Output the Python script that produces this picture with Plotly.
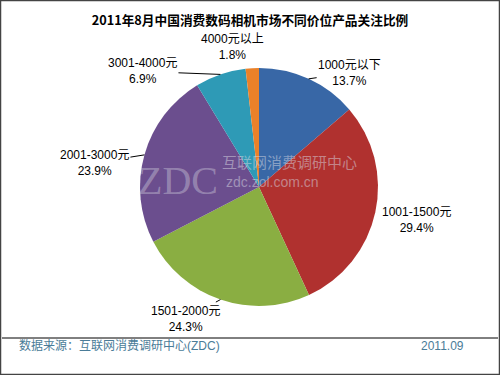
import math
import plotly.graph_objects as go

categories = ["1000元以下", "1001-1500元", "1501-2000元", "2001-3000元", "3001-4000元", "4000元以上"]
shares = [13.7, 29.4, 24.3, 23.9, 6.9, 1.8]
colors = ["#3867A6", "#B0312F", "#8AAE42", "#6B4E8E", "#2E9AB6", "#EA8129"]
# pixel offsets of each label from its slice rim point (label placement only)
label_dx = [41, 41, -35, -50, -78, -20]
label_dy = [-6, 8, 19, 8, -3, -21]
with_leader = [True, False, True, True, True, False]

W, H = 500, 375
CX, CY, R = 259, 187, 119  # pie centre / radius in pixels

fig = go.Figure(go.Pie(
    labels=categories, values=shares, sort=False, direction="clockwise",
    rotation=0, marker=dict(colors=colors, line=dict(width=0)),
    textinfo="none", hoverinfo="label+percent", showlegend=False,
    domain=dict(x=[(CX - R) / W, (CX + R) / W],
                y=[(H - CY - R) / H, (H - CY + R) / H]),
))

font = "Liberation Sans, Arial, Noto Sans CJK SC, sans-serif"
total = sum(shares)
cum = 0.0
for cat, v, dx, dy, lead in zip(categories, shares, label_dx, label_dy, with_leader):
    mid = (cum + v / 2) / total * 2 * math.pi
    cum += v
    px = CX + R * math.sin(mid)
    py = CY - R * math.cos(mid)
    fig.add_annotation(
        x=px / W, y=1 - py / H, xref="paper", yref="paper",
        text=f"{cat}<br>{v:.1f}%", showarrow=True, arrowhead=0,
        arrowwidth=1, arrowcolor="#000000" if lead else "rgba(0,0,0,0)",
        ax=dx, ay=dy, font=dict(family=font, size=12, color="#000000"),
        align="center", standoff=0,
    )

# watermark
fig.add_annotation(x=178 / W, y=1 - 180 / H, xref="paper", yref="paper",
                   text="ZDC", showarrow=False,
                   font=dict(family="Liberation Serif, DejaVu Serif", size=40,
                             color="rgba(215,215,225,0.4)"))
fig.add_annotation(x=289 / W, y=1 - 162 / H, xref="paper", yref="paper",
                   text="互联网消费调研中心", showarrow=False,
                   font=dict(family="Noto Sans CJK SC", size=15,
                             color="rgba(215,215,225,0.5)"))
fig.add_annotation(x=272 / W, y=1 - 182 / H, xref="paper", yref="paper",
                   text="zdc.zol.com.cn", showarrow=False,
                   font=dict(family="Liberation Sans, Arial", size=14,
                             color="rgba(215,215,225,0.5)"))

# footer
fig.add_annotation(x=17 / W, y=1 - 355 / H, xref="paper", yref="paper",
                   xanchor="left", text="数据来源：互联网消费调研中心(ZDC)",
                   showarrow=False,
                   font=dict(family=font, size=12, color="#4A7C98"))
fig.add_annotation(x=466 / W, y=1 - 355 / H, xref="paper", yref="paper",
                   xanchor="right", text="2011.09", showarrow=False,
                   font=dict(family=font, size=12, color="#4A7C98"))

fig.add_shape(type="line", xref="paper", yref="paper", x0=2 / W, x1=498 / W,
              y0=1 - 338 / H, y1=1 - 338 / H, line=dict(color="#000000", width=1))
fig.add_shape(type="rect", xref="paper", yref="paper", x0=0.5 / W, x1=1 - 0.5 / W,
              y0=0.5 / H, y1=1 - 0.5 / H, line=dict(color="#444444", width=1.5))

fig.update_layout(
    width=W, height=H, margin=dict(l=0, r=0, t=0, b=0),
    paper_bgcolor="#FFFFFF", plot_bgcolor="#FFFFFF",
    title=dict(text="<b>2011年8月中国消费数码相机市场不同价位产品关注比例</b>",
               x=0.5, xanchor="center", y=1 - 21 / H, yanchor="middle",
               font=dict(family="Noto Sans CJK SC, sans-serif", size=12.7,
                         color="#000000")),
)

fig.write_html("out.html", config={"displayModeBar": False},
               post_script="document.body.style.margin='0';document.body.style.overflow='hidden';")
